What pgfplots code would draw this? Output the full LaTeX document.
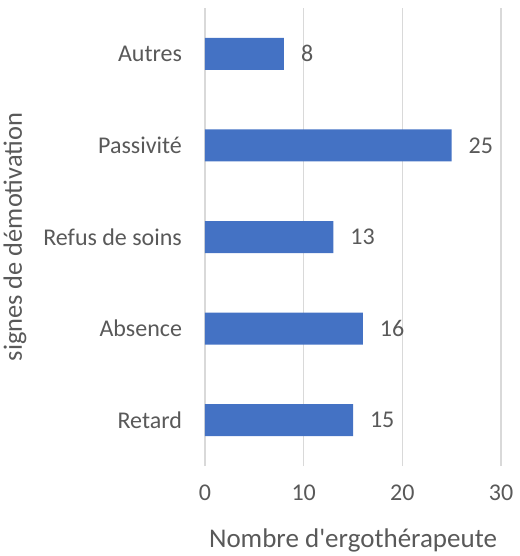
\documentclass[border=0pt]{standalone}
\usepackage{pgfplots}
\pgfplotsset{compat=1.18}
\usepackage{fontspec}
\setmainfont{Carlito}
\definecolor{barblue}{HTML}{4472C4}
\definecolor{txt}{HTML}{595959}
\definecolor{gridc}{HTML}{D9D9D9}
\begin{document}
\begin{tikzpicture}
\begin{axis}[
  xbar, scale only axis, width=148pt, height=229pt,
  xmin=0, xmax=30, ymin=-0.5, ymax=4.5,
  xtick={0,10,20,30}, ytick={0,1,2,3,4},
  yticklabels={Retard,Absence,Refus de soins,Passivité,Autres},
  axis line style={draw=none}, major tick length=0pt,
  xmajorgrids, grid style={draw=gridc, line width=0.7pt},
  bar width=16pt,
  /pgf/number format/assume math mode=true,
  tick label style={font=\fontsize{12}{14}\selectfont, text=txt},
  xticklabel style={yshift=-6pt},
  yticklabel style={xshift=-8pt},
  nodes near coords,
  nodes near coords style={anchor=west, xshift=5pt, font=\fontsize{12}{14}\selectfont, text=txt},
  xlabel={Nombre d\textquotesingle ergothérapeute}, ylabel={signes de démotivation},
  xlabel style={font=\fontsize{13.5}{15}\selectfont, text=txt, at={(axis description cs:0.5,-0.1616)}, anchor=center},
  ylabel style={font=\fontsize{13.2}{15}\selectfont, text=txt, at={(axis description cs:-0.642,0.5)}, anchor=center},
]
\addplot[fill=barblue, draw=none] coordinates {(15,0) (16,1) (13,2) (25,3) (8,4)};
\path (rel axis cs:0,0) coordinate (O);
\end{axis}
\pgfresetboundingbox
\path ([shift={(-102.5pt,-45pt)}]O) rectangle ([shift={(157pt,233pt)}]O);
\end{tikzpicture}
\end{document}
